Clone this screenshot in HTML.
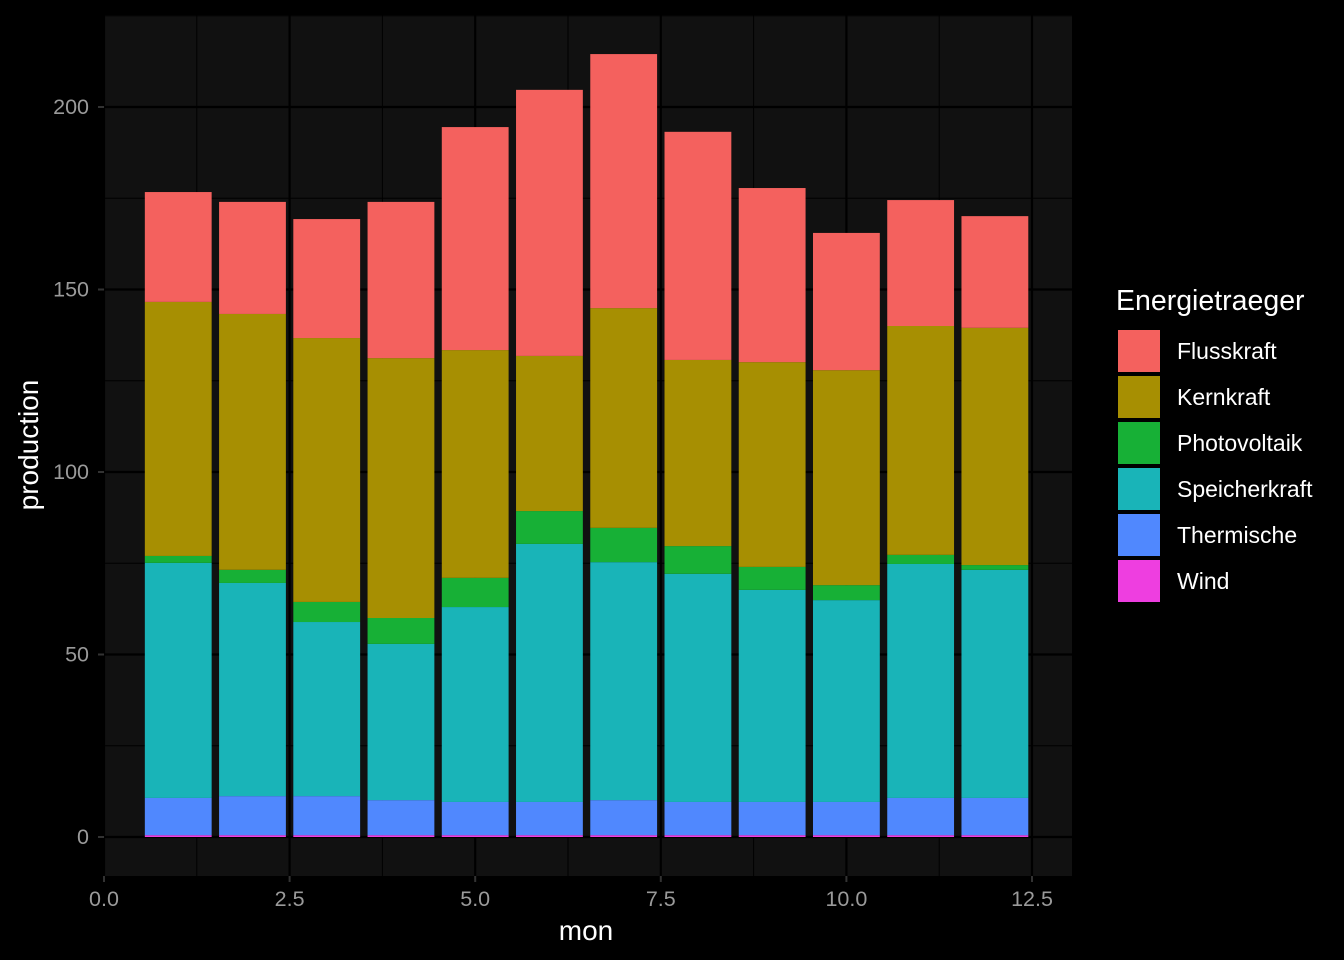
<!DOCTYPE html>
<html><head><meta charset="utf-8"><style>
html,body{margin:0;padding:0;background:#000;}
svg{display:block;font-family:"Liberation Sans",Arial,sans-serif;}
</style></head><body>
<svg id="chart" width="1344" height="960">
<rect width="1344" height="960" fill="#000"/>
</svg>
<script>
const months=[1,2,3,4,5,6,7,8,9,10,11,12];
const seriesNames=["Wind","Thermische","Speicherkraft","Photovoltaik","Kernkraft","Flusskraft"];
const wind=[0.5,0.5,0.5,0.5,0.5,0.5,0.5,0.5,0.5,0.5,0.5,0.5];
const thermische=[10.2,10.7,10.7,9.6,9.1,9.1,9.6,9.1,9.1,9.1,10.2,10.2];
const speicherkraft=[64.4,58.4,47.7,42.8,53.4,70.7,65.2,62.5,58.1,55.3,64.1,62.5];
const photovoltaik=[1.9,3.6,5.5,7.1,8.0,9.0,9.4,7.6,6.3,4.1,2.5,1.3];
const kernkraft=[69.6,70.1,72.3,71.2,62.4,42.5,60.2,51.0,56.1,58.9,62.7,65.0];
const flusskraft=[30.1,30.7,32.6,42.8,61.1,72.9,69.6,62.5,47.7,37.6,34.5,30.6];
const xTicks=[0,2.5,5,7.5,10,12.5];
const xTickLabels=["0.0","2.5","5.0","7.5","10.0","12.5"];
const yTicks=[0,50,100,150,200];
const yTickLabels=["0","50","100","150","200"];
const legendNames=["Flusskraft","Kernkraft","Photovoltaik","Speicherkraft","Thermische","Wind"];
const fills={Flusskraft:"#f4615e",Kernkraft:"#a78f02",Photovoltaik:"#17b036",Speicherkraft:"#19b4b8",Thermische:"#5088fe",Wind:"#ee3ee0"};
const data={Wind:wind,Thermische:thermische,Speicherkraft:speicherkraft,Photovoltaik:photovoltaik,Kernkraft:kernkraft,Flusskraft:flusskraft};

const NS="http://www.w3.org/2000/svg";
const svg=document.getElementById("chart");
const P={l:104,r:1072,t:15,b:876};
const x=v=>104+v*74.24;
const y=v=>837-v*3.65;
function el(tag,attrs,parent){const e=document.createElementNS(NS,tag);for(const k in attrs)e.setAttribute(k,attrs[k]);(parent||svg).appendChild(e);return e;}

const panel=el("rect",{x:P.l,y:P.t,width:P.r-P.l,height:P.b-P.t,fill:"#111111"});


for(let i=0;i<xTicks.length;i++){const v=xTicks[i]+1.25;if(x(v)<P.r){const g=el("line",{x1:x(v),x2:x(v),y1:P.t,y2:P.b,stroke:"#000","stroke-width":1});

}}
for(let i=0;i<yTicks.length;i++){const v=yTicks[i]+25;if(y(v)>P.t){const g=el("line",{x1:P.l,x2:P.r,y1:y(v),y2:y(v),stroke:"#000","stroke-width":1});

}}
xTicks.forEach((v,i)=>{const g=el("line",{x1:x(v),x2:x(v),y1:P.t,y2:P.b,stroke:"#000","stroke-width":2.2});


const tk=el("line",{x1:x(v),x2:x(v),y1:P.b,y2:P.b+6,stroke:"#333","stroke-width":2});


const t=el("text",{x:x(v),y:906,"text-anchor":"middle","font-size":21.5,fill:"#9a9a9a"});t.textContent=xTickLabels[i];

});
yTicks.forEach((v,i)=>{const g=el("line",{x1:P.l,x2:P.r,y1:y(v),y2:y(v),stroke:"#000","stroke-width":2.2});


const tk=el("line",{x1:P.l-6,x2:P.l,y1:y(v),y2:y(v),stroke:"#333","stroke-width":2});


const t=el("text",{x:89,y:y(v)+7,"text-anchor":"end","font-size":21.5,fill:"#9a9a9a"});t.textContent=yTickLabels[i];

});

months.forEach((m,i)=>{let cum=0;seriesNames.forEach(s=>{const v=data[s][i];const r=el("rect",{x:x(m-0.45),width:x(m+0.45)-x(m-0.45),y:y(cum+v),height:y(cum)-y(cum+v),fill:fills[s]});cum+=v;

});});

const xt=el("text",{x:586,y:940,"text-anchor":"middle","font-size":28,fill:"#fff"});xt.textContent="mon";


const yt=el("text",{x:38,y:445,"text-anchor":"middle","font-size":28,fill:"#fff",transform:"rotate(-90 38 445)"});yt.textContent="production";



const lt=el("text",{x:1116,y:310,"font-size":28.5,fill:"#fff"});lt.textContent="Energietraeger";


legendNames.forEach((n,i)=>{const yy=330+i*46;const k=el("rect",{x:1118,y:yy,width:42,height:42,fill:fills[n]});


const t=el("text",{x:1177,y:yy+29,"font-size":23,fill:"#fff"});t.textContent=n;

});
</script>
</body></html>
